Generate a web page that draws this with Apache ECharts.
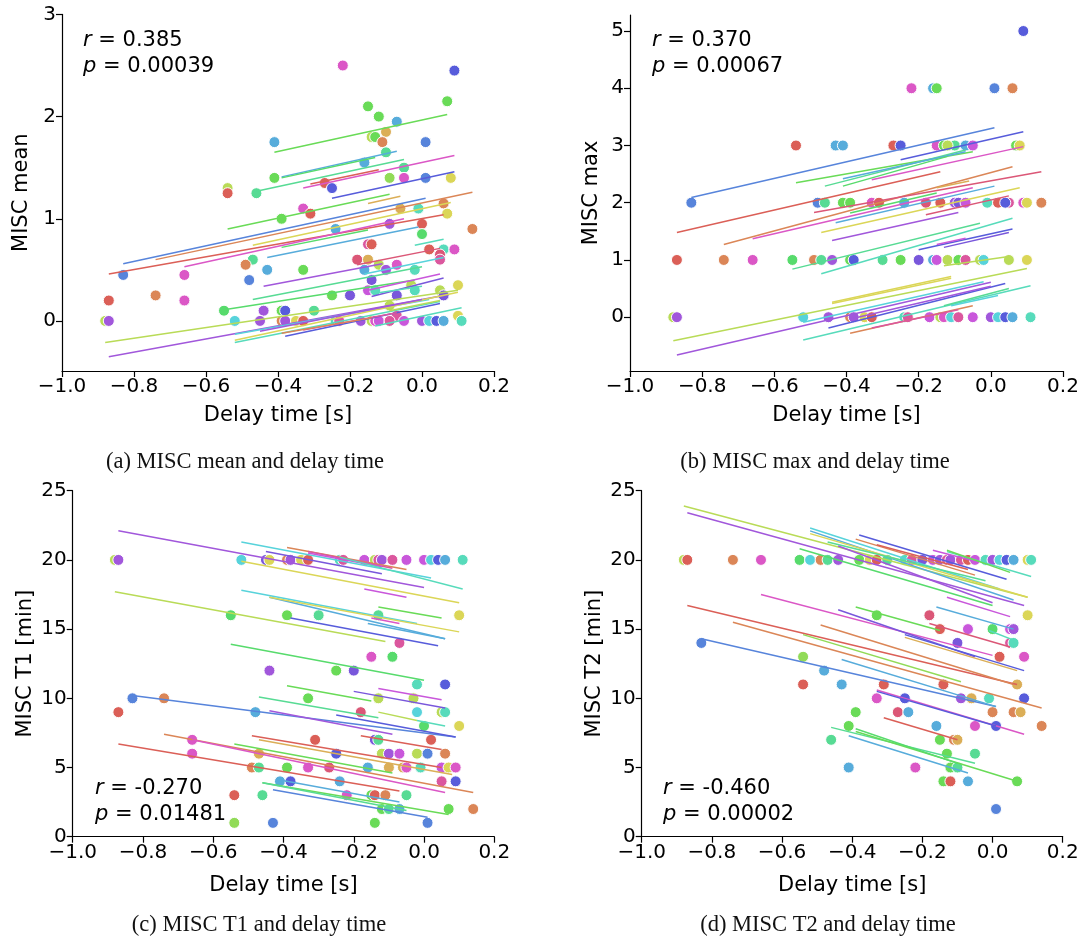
<!DOCTYPE html>
<html><head><meta charset="utf-8">
<script src="https://cdn.jsdelivr.net/npm/echarts@6/dist/echarts.min.js"></script>
<style>html,body{margin:0;padding:0;background:#fff}#c{width:1088px;height:940px}</style>
</head><body><div id="c"></div>
<script>
// ---------- DATA ----------
const xTicks = [-1.0, -0.8, -0.6, -0.4, -0.2, 0.0, 0.2];
const yTicksA = [0, 1, 2, 3];
const yTicksB = [0, 1, 2, 3, 4, 5];
const yTicksCD = [0, 5, 10, 15, 20, 25];
const captions = ['(a) MISC mean and delay time', '(b) MISC max and delay time', '(c) MISC T1 and delay time', '(d) MISC T2 and delay time'];
const yNames = ['MISC mean', 'MISC max', 'MISC T1 [min]', 'MISC T2 [min]'];
const xName = 'Delay time [s]';
const stats = [['0.385', '0.00039'], ['0.370', '0.00067'], ['-0.270', '0.01481'], ['-0.460', '0.00002']];

// points: [delay, value, participant colour index]
const pointsA = [
[-0.22,2.5,17],[0.09,2.45,13],[0.07,2.15,6],[-0.15,2.1,6],[-0.12,2.0,6],[-0.07,1.95,11],[-0.14,1.8,4],[-0.13,1.8,6],
[-0.10,1.85,2],[-0.11,1.75,1],[-0.41,1.75,11],[0.01,1.75,12],[-0.10,1.65,8],[-0.16,1.55,11],[-0.05,1.5,8],[-0.41,1.4,6],
[-0.09,1.4,5],[-0.05,1.4,17],[0.01,1.4,12],[0.08,1.4,3],[-0.27,1.35,0],[-0.25,1.3,13],[-0.54,1.3,4],[-0.54,1.25,0],
[-0.46,1.25,8],[-0.33,1.1,17],[-0.31,1.05,0],[-0.39,1.0,6],[-0.06,1.1,2],[-0.01,1.1,9],[0.06,1.15,1],[0.07,1.05,3],
[-0.09,0.95,15],[0.0,0.95,0],[0.14,0.9,1],[-0.24,0.9,11],[0.0,0.85,7],[-0.15,0.75,18],[-0.14,0.75,0],[0.02,0.7,0],
[0.06,0.7,9],[0.09,0.7,17],[0.05,0.65,19],[0.05,0.6,18],[-0.18,0.6,19],[-0.15,0.6,2],[-0.47,0.6,8],[-0.49,0.55,1],
[-0.12,0.55,4],[-0.07,0.55,17],[-0.83,0.45,12],[-0.66,0.45,17],[-0.43,0.5,11],[-0.33,0.5,6],[-0.16,0.5,11],[-0.10,0.5,15],
[-0.02,0.5,9],[-0.48,0.4,12],[-0.14,0.4,14],[-0.74,0.25,1],[-0.87,0.2,0],[-0.66,0.2,17],[-0.03,0.35,4],[0.10,0.35,3],
[-0.25,0.25,6],[-0.2,0.25,14],[-0.15,0.3,16],[-0.13,0.3,9],[-0.07,0.25,14],[-0.02,0.3,9],[0.05,0.3,4],[0.06,0.25,14],
[-0.55,0.1,7],[-0.44,0.1,15],[-0.39,0.1,6],[-0.38,0.1,13],[-0.3,0.1,8],[-0.09,0.15,4],[-0.07,0.05,18],[0.10,0.05,3],
[-0.88,0,4],[-0.87,0,15],[-0.52,0,10],[-0.45,0,15],[-0.39,0,1],[-0.38,0,15],[-0.35,0,3],[-0.33,0,0],[-0.24,0,9],
[-0.23,0,18],[-0.17,0,15],[-0.14,0,4],[-0.13,0,17],[-0.12,0,16],[-0.09,0,18],[-0.05,0,16],[0.0,0,15],[0.02,0,10],
[0.04,0,13],[0.06,0,11],[0.11,0,9]
];
const pointsB = [
[0.09,5,13],[-0.22,4,17],[-0.16,4,11],[-0.15,4,6],[0.01,4,12],[0.06,4,1],
[-0.54,3,0],[-0.43,3,11],[-0.41,3,11],[-0.27,3,0],[-0.25,3,13],[-0.15,3,17],[-0.13,3,6],[-0.10,3,8],[-0.12,3,4],
[-0.07,3,11],[-0.05,3,16],[0.07,3,6],[0.08,3,3],
[-0.83,2,12],[-0.48,2,12],[-0.46,2,8],[-0.41,2,6],[-0.39,2,6],[-0.33,2,17],[-0.31,2,0],[-0.24,2,11],[-0.18,2,19],
[-0.14,2,0],[-0.10,2,15],[-0.09,2,14],[-0.07,2,16],[-0.01,2,9],[0.02,2,0],[0.05,2,18],[0.04,2,13],[0.09,2,17],
[0.10,2,3],[0.14,2,1],
[-0.87,1,0],[-0.74,1,1],[-0.66,1,17],[-0.55,1,7],[-0.49,1,1],[-0.47,1,8],[-0.44,1,15],[-0.39,1,6],[-0.38,1,13],
[-0.30,1,8],[-0.25,1,6],[-0.20,1,14],[-0.16,1,11],[-0.15,1,16],[-0.12,1,4],[-0.09,1,6],[-0.07,1,18],[-0.03,1,4],
[-0.02,1,10],[0.05,1,4],[0.10,1,3],
[-0.88,0,4],[-0.87,0,15],[-0.52,0,10],[-0.45,0,15],[-0.39,0,1],[-0.38,0,15],[-0.35,0,3],[-0.33,0,0],[-0.24,0,9],
[-0.23,0,18],[-0.17,0,16],[-0.14,0,4],[-0.13,0,17],[-0.11,0,10],[-0.09,0,18],[-0.05,0,16],[0.0,0,15],[0.02,0,10],
[0.04,0,13],[0.06,0,11],[0.11,0,9]
];
const pointsC = [
[-0.88,20,4],[-0.87,20,15],[-0.52,20,10],[-0.45,20,14],[-0.44,20,3],[-0.39,20,1],[-0.38,20,15],[-0.35,20,3],
[-0.33,20,0],[-0.24,20,9],[-0.23,20,18],[-0.17,20,16],[-0.14,20,4],[-0.13,20,18],[-0.12,20,15],[-0.09,20,18],
[-0.05,20,16],[0.0,20,16],[0.02,20,10],[0.04,20,13],[0.06,20,11],[0.11,20,9],
[-0.55,16,7],[-0.39,16,6],[-0.30,16,8],[-0.13,16,8],[0.10,16,3],[-0.07,14,18],[-0.15,13,17],[-0.09,13,7],
[-0.44,12,15],[-0.25,12,6],[-0.2,12,14],[-0.02,11,9],[0.06,11,13],
[-0.83,10,12],[-0.74,10,1],[-0.33,10,6],[-0.13,10,4],[-0.03,10,4],
[-0.87,9,0],[-0.48,9,11],[-0.18,9,19],[-0.02,9,10],[0.05,9,4],[0.06,9,9],[0.0,8,7],[0.10,8,3],
[-0.66,7,17],[-0.31,7,0],[-0.14,7,14],[-0.13,7,8],[0.02,7,0],
[-0.66,6,17],[-0.47,6,2],[-0.25,6,13],[-0.12,6,4],[-0.10,6,15],[-0.07,6,16],[-0.02,6,4],[0.01,6,12],[0.06,6,1],
[-0.49,5,1],[-0.47,5,8],[-0.39,5,6],[-0.33,5,17],[-0.27,5,19],[-0.16,5,11],[-0.10,5,2],[-0.06,5,2],[-0.05,5,17],
[-0.01,5,9],[0.05,5,16],[0.07,5,3],[0.09,5,17],
[-0.41,4,11],[-0.38,4,13],[-0.24,4,11],[0.05,4,18],[0.09,4,13],
[-0.54,3,0],[-0.46,3,8],[-0.22,3,17],[-0.15,3,6],[-0.14,3,0],[-0.11,3,1],[-0.05,3,8],
[-0.12,2,6],[-0.10,2,8],[-0.07,2,11],[0.07,2,6],[0.14,2,1],
[-0.54,1,5],[-0.43,1,12],[-0.14,1,6],[0.01,1,12]
];
const pointsD = [
[-0.88,20,4],[-0.87,20,0],[-0.74,20,1],[-0.66,20,17],[-0.55,20,7],[-0.52,20,10],[-0.49,20,1],[-0.47,20,8],
[-0.44,20,15],[-0.38,20,6],[-0.35,20,3],[-0.33,20,0],[-0.30,20,8],[-0.25,20,9],[-0.23,20,18],[-0.2,20,14],
[-0.17,20,16],[-0.15,20,15],[-0.13,20,18],[-0.12,20,15],[-0.09,20,18],[-0.07,20,0],[-0.05,20,16],[-0.02,20,9],
[0.0,20,15],[0.02,20,10],[0.04,20,13],[0.06,20,11],[0.10,20,3],[0.11,20,9],
[-0.33,16,6],[-0.18,16,19],[0.10,16,3],
[-0.15,15,0],[-0.07,15,16],[0.0,15,7],[0.05,15,16],[0.06,15,15],
[-0.83,14,12],[-0.10,14,14],[0.05,14,18],[0.06,14,9],
[-0.54,13,5],[0.02,13,0],[0.09,13,17],[-0.48,12,11],
[-0.54,11,0],[-0.43,11,11],[-0.31,11,0],[-0.14,11,0],[0.07,11,2],
[-0.33,10,17],[-0.25,10,13],[-0.09,10,15],[-0.06,10,2],[-0.01,10,9],[0.09,10,13],
[-0.39,9,6],[-0.27,9,19],[-0.24,9,11],[0.0,9,1],[0.06,9,1],[0.08,9,2],
[-0.41,8,6],[-0.16,8,11],[-0.05,8,17],[0.01,8,13],[0.14,8,1],
[-0.46,7,8],[-0.15,7,6],[-0.11,7,1],[-0.10,7,2],
[-0.13,6,6],[-0.05,6,8],
[-0.41,5,11],[-0.22,5,17],[-0.12,5,6],[-0.10,5,8],
[-0.14,4,6],[-0.12,4,0],[-0.07,4,11],[0.07,4,6],
[0.01,2,12]
];

// per-participant fitted lines: [colour index, x0, y0, x1, y1]
const linesA = [
[6,-0.41,1.65,0.07,2.02],[11,-0.39,1.41,-0.07,1.66],[7,-0.39,1.40,-0.13,1.60],[8,-0.46,1.27,-0.05,1.58],
[0,-0.31,1.34,-0.12,1.48],[17,-0.33,1.30,0.09,1.62],[13,-0.25,1.20,0.09,1.46],[6,-0.54,0.90,-0.09,1.24],
[2,-0.15,1.15,-0.06,1.22],[12,-0.83,0.56,0.01,1.20],[1,-0.74,0.60,0.14,1.26],[0,-0.87,0.46,0.06,1.04],
[3,-0.47,0.74,0.08,1.16],[17,-0.66,0.53,-0.05,1.0],[11,-0.43,0.62,-0.01,0.92],[7,-0.39,0.72,-0.15,0.89],
[9,-0.02,0.74,0.06,0.80],[19,-0.18,0.55,0.05,0.71],[10,-0.16,0.46,0.06,0.62],[15,-0.44,0.34,-0.11,0.56],
[8,-0.47,0.21,0.0,0.53],[7,-0.55,0.11,-0.02,0.40],[16,-0.15,0.30,0.05,0.46],[14,-0.14,0.24,0.06,0.42],
[9,-0.13,0.27,0.0,0.34],[4,-0.88,-0.21,0.10,0.30],[15,-0.87,-0.35,0.06,0.25],[10,-0.52,-0.13,0.02,0.21],
[3,-0.52,-0.19,0.10,0.28],[9,-0.52,-0.21,0.05,0.19],[9,-0.13,-0.05,0.11,0.13],[13,-0.38,-0.15,0.05,0.17],
[15,-0.45,-0.10,0.0,0.21],[18,-0.33,-0.09,-0.07,0.08],[1,-0.39,-0.12,-0.14,0.03],[4,-0.09,0.10,0.05,0.20]
];
const linesB = [
[12,-0.83,2.09,0.01,3.31],[13,-0.25,2.75,0.09,3.24],[6,-0.54,2.35,-0.05,2.89],[8,-0.46,2.29,-0.07,2.92],
[11,-0.41,2.42,-0.07,2.89],[7,-0.41,2.29,-0.12,2.81],[17,-0.33,2.40,0.09,2.98],[0,-0.87,1.48,-0.14,2.54],
[1,-0.74,1.27,0.06,2.63],[17,-0.66,1.37,-0.05,2.26],[19,-0.49,1.83,0.14,2.54],[2,-0.15,2.26,-0.06,2.38],
[7,-0.39,1.82,-0.15,2.17],[11,-0.43,1.65,0.01,2.29],[3,-0.47,1.48,0.08,2.26],[19,-0.18,1.79,0.05,2.12],
[15,-0.44,1.34,-0.09,1.83],[9,-0.47,0.76,0.06,1.73],[8,-0.55,0.84,-0.03,1.64],[13,-0.20,1.18,0.06,1.54],
[16,-0.15,1.27,-0.07,1.38],[14,-0.13,1.22,0.05,1.48],[4,-0.13,0.90,0.05,1.06],[4,-0.88,-0.41,0.10,0.85],
[15,-0.87,-0.66,0.0,0.61],[3,-0.44,0.26,-0.11,0.71],[3,-0.44,0.24,-0.11,0.68],[10,-0.52,-0.09,-0.02,0.62],
[13,-0.45,-0.19,0.04,0.59],[9,-0.52,-0.40,0.11,0.55],[8,-0.13,0.20,0.05,0.50],[1,-0.39,-0.28,-0.05,0.20],
[18,-0.33,-0.19,-0.09,0.13],[10,-0.11,0.20,0.02,0.38],[15,-0.38,-0.02,0.0,0.54]
];
const linesC = [
[15,-0.87,22.1,0.0,18.0],[10,-0.52,21.3,0.02,18.7],[1,-0.39,20.9,-0.05,19.3],[18,-0.33,20.6,-0.09,19.4],
[16,-0.33,20.5,-0.12,19.5],[14,-0.45,20.6,-0.12,19.0],[9,-0.24,20.2,0.11,17.9],[3,-0.52,19.9,0.10,16.9],
[16,-0.17,17.9,-0.05,17.3],[4,-0.88,17.7,-0.11,14.1],[10,-0.52,17.8,-0.02,15.4],[11,-0.44,17.3,0.06,14.3],
[6,-0.13,16.6,0.05,15.8],[3,-0.44,17.3,0.10,14.8],[17,-0.15,15.8,-0.07,15.4],[11,-0.16,15.4,0.06,14.3],
[13,-0.38,15.8,0.04,13.8],[7,-0.55,13.9,0.0,11.3],[6,-0.39,10.9,-0.15,9.8],[14,-0.2,10.5,0.06,9.3],
[16,-0.13,10.7,0.05,9.9],[8,-0.47,10.1,-0.13,8.6],[12,-0.83,10.2,0.09,7.2],[4,-0.13,9.0,-0.02,8.4],
[9,-0.02,8.4,0.06,8.0],[15,-0.44,9.1,-0.09,7.4],[13,-0.25,8.8,0.09,7.2],[0,-0.18,7.3,0.05,6.3],
[1,-0.74,7.4,0.14,3.2],[17,-0.66,7.0,0.06,3.2],[0,-0.87,6.7,-0.07,3.3],[0,-0.49,7.3,0.05,5.0],
[2,-0.47,7.0,0.08,4.5],[6,-0.54,6.7,-0.09,4.6],[6,-0.46,3.9,0.07,1.6],[12,-0.43,3.4,0.01,1.4],
[11,-0.41,4.1,-0.07,2.5],[8,-0.46,3.9,-0.05,1.9]
];
const linesD = [
[4,-0.88,23.9,0.10,17.3],[15,-0.87,23.4,0.09,16.7],[10,-0.52,22.3,0.02,17.9],[11,-0.52,22.1,0.06,17.1],
[3,-0.52,21.9,0.10,17.3],[13,-0.38,21.8,0.04,18.6],[1,-0.39,21.5,-0.05,18.9],[0,-0.33,21.1,-0.07,19.3],
[8,-0.47,21.3,-0.02,18.5],[15,-0.44,21.0,0.0,16.9],[7,-0.55,20.8,0.0,16.7],[16,-0.17,20.7,-0.05,19.9],
[9,-0.13,20.6,0.11,18.8],[6,-0.13,20.7,0.05,19.1],[17,-0.66,17.5,0.0,13.1],[14,-0.44,16.4,-0.05,13.0],
[6,-0.39,16.6,-0.15,14.9],[11,-0.16,16.6,0.06,15.0],[16,-0.13,17.3,0.05,15.9],[19,-0.18,15.4,0.05,13.7],
[9,-0.01,14.9,0.06,14.2],[13,-0.25,14.6,0.09,12.0],[2,-0.25,14.4,0.07,12.0],[0,-0.87,16.7,0.07,11.0],
[1,-0.74,15.5,0.14,9.3],[1,-0.49,15.3,0.06,11.0],[5,-0.54,14.6,-0.09,11.2],[12,-0.83,14.3,0.01,9.4],
[11,-0.43,12.8,0.01,9.4],[17,-0.33,10.6,0.09,7.4],[0,-0.31,8.6,-0.10,7.0],[13,-0.33,10.5,0.01,8.0],
[8,-0.46,7.9,-0.05,5.3],[6,-0.39,7.6,0.07,4.0],[11,-0.41,7.3,-0.07,4.6],[7,-0.39,7.8,-0.10,5.3]
];

// ---------- STYLE / LAYOUT ----------
function hls(i, n) {
  const h = ((0.01 + i / n) % 1) * 6, l = 0.6, s = 0.65;
  const c = (1 - Math.abs(2 * l - 1)) * s, x = c * (1 - Math.abs(h % 2 - 1)), m = l - c / 2;
  let r = 0, g = 0, b = 0;
  if (h < 1) { r = c; g = x; } else if (h < 2) { r = x; g = c; } else if (h < 3) { g = c; b = x; }
  else if (h < 4) { g = x; b = c; } else if (h < 5) { r = x; b = c; } else { r = c; b = x; }
  const hx = v => Math.round((v + m) * 255).toString(16).padStart(2, '0');
  return '#' + hx(r) + hx(g) + hx(b);
}
const pal = Array.from({length: 20}, (_, i) => hls(i, 20));

const grids = [
  {left: 62, top: 14.4, width: 432, height: 356.6},
  {left: 630, top: 15, width: 433, height: 356},
  {left: 72.7, top: 490.7, width: 421.6, height: 346},
  {left: 641.7, top: 490.7, width: 421, height: 346}
];
const yRanges = [[-0.49, 3.0, yTicksA], [-0.94, 5.28, yTicksB], [0, 25, yTicksCD], [0, 25, yTicksCD]];
const yGaps = [30, 28, 37, 37];
const font = 'DejaVu Sans';
const minus = v => (v < 0 ? '\u2212' : '') + Math.abs(v);
const allPoints = [pointsA, pointsB, pointsC, pointsD];
const allLines = [linesA, linesB, linesC, linesD];

const xAxes = grids.map((g, i) => ({
  type: 'value', gridIndex: i, min: -1.0, max: 0.2, interval: 0.2,
  name: xName, nameLocation: 'middle', nameGap: i < 2 ? 34 : 38,
  nameTextStyle: {fontFamily: font, fontSize: 21, color: '#000'},
  axisLine: {onZero: false, lineStyle: {color: '#000', width: 1.2}},
  axisTick: {show: true, length: 6, lineStyle: {color: '#000', width: 1.2}},
  axisLabel: {fontFamily: font, fontSize: 20, color: '#000', margin: 6,
    formatter: v => (v < -1e-9 ? '\u2212' : '') + Math.abs(v).toFixed(1)},
  splitLine: {show: false}
}));
const yAxes = grids.map((g, i) => ({
  type: 'value', gridIndex: i, min: yRanges[i][0], max: yRanges[i][1],
  name: yNames[i], nameLocation: 'middle', nameGap: yGaps[i],
  nameTextStyle: {fontFamily: font, fontSize: 21, color: '#000'},
  axisLine: {onZero: false, lineStyle: {color: '#000', width: 1.2}},
  axisTick: {show: true, length: 6, customValues: yRanges[i][2], lineStyle: {color: '#000', width: 1.2}},
  axisLabel: {fontFamily: font, fontSize: 20, color: '#000', margin: 6, customValues: yRanges[i][2],
    formatter: v => minus(v)},
  splitLine: {show: false}
}));

const series = [];
allPoints.forEach((pts, i) => {
  series.push({
    type: 'scatter', xAxisIndex: i, yAxisIndex: i, symbolSize: 11, z: 2,
    itemStyle: {borderColor: '#fff', borderWidth: 1, opacity: 1},
    data: pts.map(p => ({value: [p[0], p[1]], itemStyle: {color: pal[p[2]]}}))
  });
  series.push({
    type: 'lines', coordinateSystem: 'cartesian2d', xAxisIndex: i, yAxisIndex: i, z: 3,
    lineStyle: {width: 1.5, opacity: 1},
    data: allLines[i].map(l => ({coords: [[l[1], l[2]], [l[3], l[4]]], lineStyle: {color: pal[l[0]]}}))
  });
});

const statPos = [[83, 42], [652, 42], [95, 790], [663, 790]];
const graphic = [];
stats.forEach((s, i) => {
  graphic.push({type: 'text', left: statPos[i][0], top: statPos[i][1] - 14,
    style: {text: '{i|r} = ' + s[0] + '\n{i|p} = ' + s[1], fill: '#000', font: '21px "DejaVu Sans"', lineHeight: 26,
      rich: {i: {fontStyle: 'italic', fontFamily: 'DejaVu Sans', fontSize: 21, fill: '#000'}}}});
});
const capPos = [[245, 462], [815, 462], [259, 925], [828, 925]];
captions.forEach((c, i) => {
  graphic.push({type: 'text', x: capPos[i][0], y: capPos[i][1],
    style: {text: c, fill: '#111', font: '22.5px "Liberation Serif"', align: 'center', verticalAlign: 'middle'}});
});

const chart = echarts.init(document.getElementById('c'), null, {renderer: 'canvas'});
chart.setOption({
  animation: false, backgroundColor: '#fff',
  grid: grids.map(g => Object.assign({containLabel: false}, g)),
  xAxis: xAxes, yAxis: yAxes, series, graphic
});
</script></body></html>
